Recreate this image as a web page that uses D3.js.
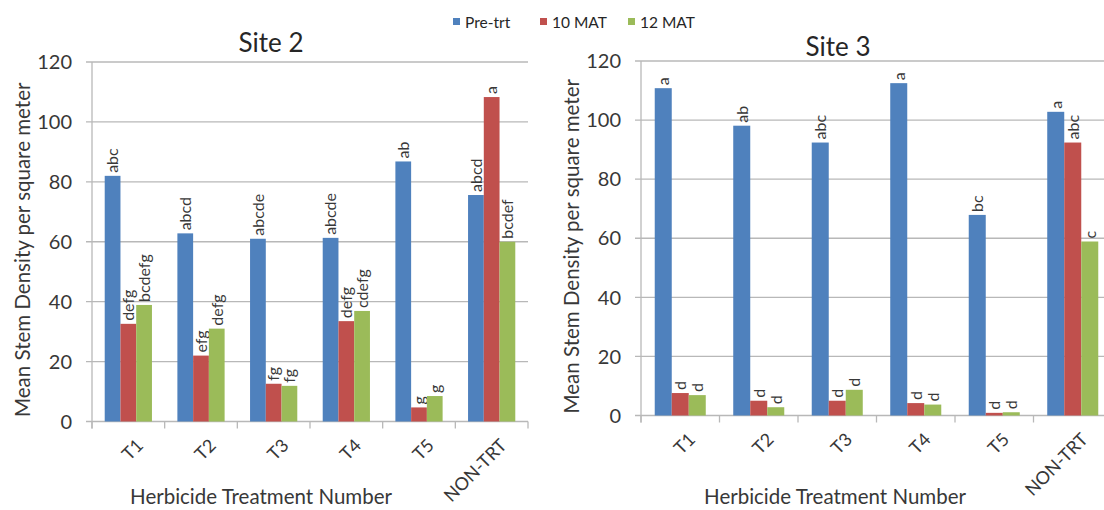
<!DOCTYPE html>
<html><head><meta charset="utf-8">
<script src="https://cdn.jsdelivr.net/npm/d3@7"></script>
<style>body{margin:0;background:#fff;} svg{display:block;font-family:Lato, "Open Sans", sans-serif;}</style>
</head><body><svg id="chart" width="1104" height="510"></svg>
<script>
const categories = ["T1","T2","T3","T4","T5","NON-TRT"];
const seriesNames = ["Pre-trt","10 MAT","12 MAT"];
const seriesColors = ["#4F81BD","#C0504D","#9BBB59"];
const yTicks = [0,20,40,60,80,100,120];

const site2PreTrt = [82, 62.8, 61, 61.3, 86.8, 75.6];
const site2Mat10  = [32.6, 22, 12.6, 33.5, 4.7, 108.3];
const site2Mat12  = [38.9, 31, 11.9, 36.9, 8.5, 60];
const site2PreTrtLetters = ["abc","abcd","abcde","abcde","ab","abcd"];
const site2Mat10Letters  = ["defg","efg","fg","defg","g","a"];
const site2Mat12Letters  = ["bcdefg","defg","fg","cdefg","g","bcdef"];

const site3PreTrt = [110.8, 98.1, 92.4, 112.5, 67.9, 102.8];
const site3Mat10  = [7.6, 5.0, 5.0, 4.2, 0.9, 92.4];
const site3Mat12  = [6.9, 2.8, 8.7, 3.7, 1.1, 58.9];
const site3PreTrtLetters = ["a","ab","abc","a","bc","a"];
const site3Mat10Letters  = ["d","d","d","d","d","abc"];
const site3Mat12Letters  = ["d","d","d","d","d","c"];

const svg = d3.select("#chart");
const gridColor = "#b8b8b8";
const textColor = "#383838";

function drawPanel(cfg, values, letters) {
  const g = svg.append("g");
  const x = d3.scaleBand().domain(categories).range([cfg.x0, cfg.x1]).paddingInner(0.35).paddingOuter(0.175);
  const xs = d3.scaleBand().domain(seriesNames).range([0, x.bandwidth()]);
  const y = d3.scaleLinear().domain([0, 120]).range([cfg.yB, cfg.yT]);

  // gridlines
  g.append("g").selectAll("line").data(yTicks).join("line")
    .attr("x1", cfg.x0 - 6).attr("x2", cfg.x1)
    .attr("y1", d => y(d)).attr("y2", d => y(d))
    .attr("stroke", gridColor).attr("stroke-width", 1.3);
  // y tick labels
  g.append("g").selectAll("text").data(yTicks).join("text")
    .attr("x", cfg.x0 - 20).attr("y", d => y(d)).attr("dy", "0.36em")
    .attr("text-anchor", "end").attr("font-size", 20).attr("fill", textColor)
    .text(d => d);
  // vertical axis
  g.append("line").attr("x1", cfg.x0).attr("x2", cfg.x0).attr("y1", cfg.yT).attr("y2", cfg.yB + 7)
    .attr("stroke", gridColor).attr("stroke-width", 1.3);
  // category boundary ticks
  const bounds = d3.range(categories.length + 1).map(i => cfg.x0 + i * x.step());
  g.append("g").selectAll("line").data(bounds).join("line")
    .attr("x1", d => d).attr("x2", d => d).attr("y1", cfg.yB).attr("y2", cfg.yB + 7)
    .attr("stroke", gridColor).attr("stroke-width", 1.3);

  // bars
  seriesNames.forEach((s, si) => {
    const gs = g.append("g");
    gs.selectAll("rect").data(categories).join("rect")
      .attr("x", c => x(c) + xs(s))
      .attr("width", xs.bandwidth())
      .attr("y", (c, i) => y(values[si][i]))
      .attr("height", (c, i) => y(0) - y(values[si][i]))
      .attr("fill", seriesColors[si]);
    gs.selectAll("text").data(categories).join("text")
      .attr("transform", (c, i) => `translate(${x(c) + xs(s) + xs.bandwidth() / 2},${y(values[si][i]) - 3}) rotate(-90)`)
      .attr("dy", "0.36em").attr("font-size", 16).attr("fill", textColor)
      .text((c, i) => letters[si][i]);
  });

  // category labels
  g.append("g").selectAll("text").data(categories).join("text")
    .attr("transform", c => `translate(${x(c) + x.bandwidth() / 2 + 7},${cfg.yB + 16}) rotate(-45)`)
    .attr("text-anchor", "end").attr("dy", "0.72em")
    .attr("font-size", 18).attr("fill", textColor)
    .text(c => c);

  // titles
  g.append("text").attr("x", cfg.titleX).attr("y", cfg.titleY).attr("text-anchor", "middle")
    .attr("font-size", 26).attr("fill", "#262626").text(cfg.title);
  g.append("text").attr("transform", `translate(${cfg.x0 - 69},${(cfg.yT + cfg.yB) / 2 + 8}) rotate(-90)`)
    .attr("text-anchor", "middle").attr("dy", "0.36em").attr("font-size", 20.5).attr("fill", textColor)
    .text("Mean Stem Density per square meter");
  g.append("text").attr("x", cfg.xTitleX).attr("y", 504).attr("text-anchor", "middle")
    .attr("font-size", 20.5).attr("fill", textColor).text("Herbicide Treatment Number");
}

drawPanel({title: "Site 2", x0: 92, x1: 528, yB: 421.5, yT: 62, titleX: 271, titleY: 52, xTitleX: 261},
  [site2PreTrt, site2Mat10, site2Mat12], [site2PreTrtLetters, site2Mat10Letters, site2Mat12Letters]);
drawPanel({title: "Site 3", x0: 641, x1: 1112, yB: 415.5, yT: 61, titleX: 838, titleY: 56, xTitleX: 835},
  [site3PreTrt, site3Mat10, site3Mat12], [site3PreTrtLetters, site3Mat10Letters, site3Mat12Letters]);

// legend
const legendX = [453, 540, 628];
const lg = svg.append("g");
seriesNames.forEach((s, i) => {
  lg.append("rect").attr("x", legendX[i]).attr("y", 18).attr("width", 7).attr("height", 7).attr("fill", seriesColors[i]);
  lg.append("text").attr("x", legendX[i] + 12).attr("y", 27.5).attr("font-size", 15.5).attr("fill", "#262626").text(s);
});
</script></body></html>
